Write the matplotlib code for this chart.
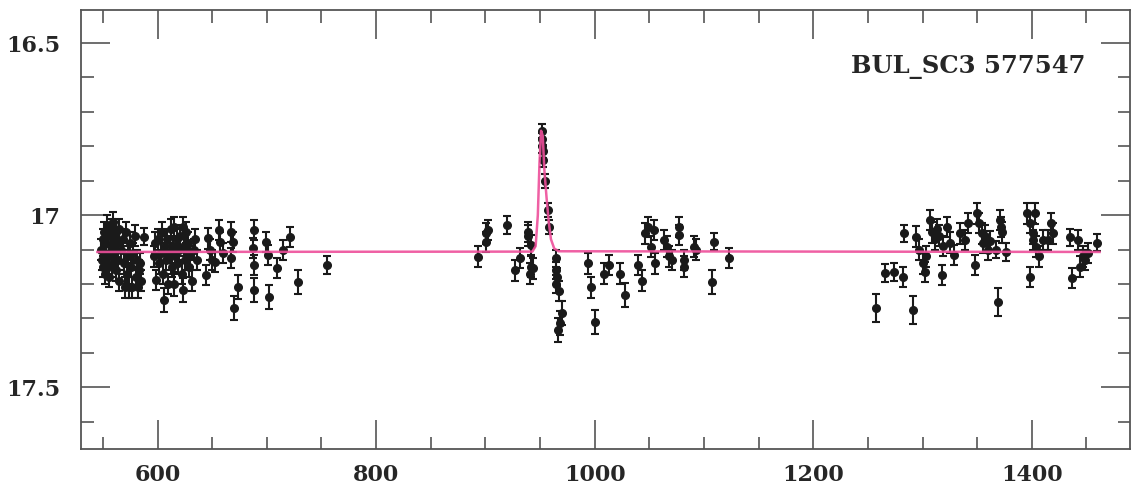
import matplotlib.pyplot as plt
from matplotlib.ticker import MultipleLocator, FormatStrFormatter

# season 1 (days, I mag, error)
s1_t = [548, 549, 550, 550, 551, 552, 552, 553, 554, 554, 555, 556, 556, 557, 558, 558, 559, 560, 560, 561,
        562, 562, 563, 564, 565, 565,
        567, 568, 569, 570, 571, 572, 573, 574, 575, 576, 577, 578, 579, 580, 581, 582, 583, 584, 585, 588,
        597, 598, 599, 600, 601, 603, 604, 605, 606, 607, 608, 609, 610, 611, 612, 613, 614, 615, 615, 616,
        618, 619, 620, 621, 622, 623, 623, 624, 625, 626, 627, 628, 629, 630, 632, 633, 634, 636,
        644, 646, 648, 650, 653, 656, 657, 660, 667, 667, 669, 670, 674, 688, 687, 688, 688, 699, 701, 702,
        709, 715, 721, 729, 755]
s1_mag = [17.10, 17.13, 17.07, 17.15, 17.05, 17.11, 17.17, 17.08, 17.03, 17.14, 17.06, 17.12, 17.18, 17.09,
          17.04, 17.15, 17.02, 17.07, 17.12, 17.10, 17.05, 17.16, 17.08, 17.13, 17.04, 17.19,
          17.10, 17.07, 17.14, 17.21, 17.05, 17.17, 17.12, 17.21, 17.08, 17.15, 17.21, 17.11, 17.06, 17.18,
          17.13, 17.21, 17.16, 17.14, 17.19, 17.063,
          17.12, 17.08, 17.188, 17.07, 17.14, 17.11, 17.05, 17.17, 17.246, 17.09, 17.13, 17.07, 17.20, 17.11,
          17.04, 17.15, 17.09, 17.035, 17.20, 17.12, 17.07, 17.14, 17.10, 17.06, 17.17, 17.035, 17.217, 17.09,
          17.13, 17.05, 17.11, 17.08, 17.15, 17.12, 17.19, 17.10, 17.07, 17.13,
          17.174, 17.067, 17.10, 17.13, 17.136, 17.043, 17.078, 17.11, 17.049, 17.125, 17.078, 17.27, 17.209,
          17.043, 17.096, 17.145, 17.217, 17.078, 17.116, 17.238, 17.154, 17.101, 17.064, 17.194, 17.145]
s1_err = [0.03, 0.03, 0.03, 0.03, 0.03, 0.03, 0.03, 0.03, 0.03, 0.03, 0.03, 0.03, 0.03, 0.03, 0.03, 0.03,
          0.03, 0.03, 0.03, 0.03, 0.03, 0.03, 0.03, 0.03, 0.03, 0.03,
          0.03, 0.03, 0.03, 0.03, 0.03, 0.03, 0.03, 0.03, 0.03, 0.03, 0.03, 0.03, 0.03, 0.03, 0.03, 0.03,
          0.03, 0.03, 0.03, 0.025,
          0.03, 0.03, 0.03, 0.03, 0.03, 0.03, 0.03, 0.03, 0.035, 0.03, 0.03, 0.03, 0.03, 0.03, 0.03, 0.03,
          0.03, 0.03, 0.035, 0.03, 0.03, 0.03, 0.03, 0.03, 0.03, 0.03, 0.035, 0.03, 0.03, 0.03, 0.03, 0.03,
          0.03, 0.03, 0.03, 0.03, 0.03, 0.03,
          0.03, 0.03, 0.03, 0.03, 0.03, 0.03, 0.03, 0.03, 0.03, 0.03, 0.03, 0.035, 0.035, 0.03, 0.03, 0.03,
          0.035, 0.03, 0.03, 0.035, 0.03, 0.03, 0.03, 0.035, 0.025]

# season 2, with the event
s2_t = [893, 901, 901, 902, 920, 927, 932, 939, 939, 941, 942, 942, 944,
        951.5, 951.5, 952, 952.5, 953, 954.5, 957.5, 958,
        965, 965, 965.5, 965, 967, 970, 968.5, 966,
        994, 997, 1000, 1009, 1013, 1023, 1028,
        1040, 1043, 1046, 1049, 1052, 1054, 1055, 1063, 1066, 1068, 1071, 1077, 1077, 1082, 1082,
        1091, 1093, 1109, 1107, 1123]
s2_mag = [17.121, 17.053, 17.078, 17.043, 17.029, 17.16, 17.125, 17.049, 17.06, 17.17, 17.087, 17.15, 17.155,
          16.755, 16.78, 16.80, 16.815, 16.84, 16.90, 16.985, 17.035,
          17.125, 17.16, 17.18, 17.20, 17.22, 17.284, 17.313, 17.333,
          17.14, 17.21, 17.31, 17.17, 17.145, 17.17, 17.232,
          17.145, 17.19, 17.053, 17.035, 17.092, 17.043, 17.14, 17.072, 17.092, 17.12, 17.13, 17.058, 17.035,
          17.13, 17.15, 17.092, 17.1, 17.077, 17.194, 17.125]
s2_err = [0.03, 0.03, 0.03, 0.03, 0.025, 0.03, 0.03, 0.03, 0.03, 0.03, 0.03, 0.03, 0.03,
          0.02, 0.02, 0.02, 0.02, 0.02, 0.02, 0.02, 0.02,
          0.025, 0.025, 0.025, 0.025, 0.03, 0.035, 0.035, 0.035,
          0.03, 0.03, 0.035, 0.03, 0.03, 0.03, 0.035,
          0.03, 0.03, 0.03, 0.03, 0.03, 0.03, 0.03, 0.03, 0.03, 0.03, 0.03, 0.03, 0.03, 0.03, 0.03,
          0.03, 0.03, 0.025, 0.035, 0.03]

# season 3
s3_t = [1257, 1266, 1274, 1282, 1291, 1283, 1294, 1297, 1300, 1302, 1303, 1307, 1309, 1311, 1313, 1315,
        1318, 1319, 1322, 1325, 1329, 1334, 1339, 1342, 1348, 1350, 1352, 1354, 1355, 1357, 1360, 1362,
        1367, 1369, 1371, 1372, 1373, 1376,
        1396, 1398, 1398, 1401, 1401, 1403, 1404, 1407, 1410, 1415, 1418, 1419,
        1435, 1437, 1442, 1444, 1447, 1449, 1451, 1460]
s3_mag = [17.27, 17.168, 17.165, 17.18, 17.275, 17.053, 17.063, 17.10, 17.14, 17.165, 17.12, 17.014, 17.05,
          17.07, 17.04, 17.06, 17.174, 17.09, 17.035, 17.08, 17.116, 17.053, 17.072, 17.023, 17.145, 16.995,
          17.023, 17.053, 17.08, 17.06, 17.10, 17.075, 17.10, 17.252, 17.014, 17.035, 17.05, 17.107,
          16.995, 17.023, 17.18, 17.053, 17.072, 16.995, 17.092, 17.12, 17.072, 17.072, 17.023, 17.053,
          17.064, 17.183, 17.072, 17.15, 17.12, 17.13, 17.11, 17.08]
s3_err = [0.04, 0.025, 0.025, 0.03, 0.04, 0.025, 0.03, 0.03, 0.03, 0.03, 0.03, 0.03, 0.03, 0.03, 0.03,
          0.03, 0.03, 0.03, 0.03, 0.03, 0.03, 0.03, 0.03, 0.03, 0.03, 0.03, 0.03, 0.03, 0.03, 0.03, 0.03,
          0.03, 0.025, 0.04, 0.03, 0.03, 0.03, 0.025,
          0.03, 0.03, 0.03, 0.03, 0.03, 0.03, 0.03, 0.03, 0.03, 0.03, 0.03, 0.03,
          0.025, 0.03, 0.03, 0.03, 0.03, 0.03, 0.03, 0.025]

# fitted curve
fit_t = [545, 943, 946, 948, 949.5, 951, 952.5, 954, 956, 958, 960, 963, 967, 1462]
fit_mag = [17.107, 17.106, 17.09, 17.0, 16.85, 16.755, 16.77, 16.87, 16.95, 17.02, 17.07, 17.097, 17.105, 17.107]

label = "BUL_SC3 577547"

fig = plt.figure(figsize=(11.33, 4.98), dpi=100)
ax = fig.add_axes([0.0715, 0.098, 0.926, 0.882])

for t, m, e in [(s1_t, s1_mag, s1_err), (s2_t, s2_mag, s2_err), (s3_t, s3_mag, s3_err)]:
    ax.errorbar(t, m, yerr=e, fmt='o', color='#1a1a1a', ms=5.5, elinewidth=1.5,
                capsize=2.8, capthick=1.5, zorder=2)

ax.plot(fit_t, fit_mag, color='#ee4f9a', lw=1.8, alpha=0.9, zorder=3)

ax.set_xlim(530, 1490)
ax.set_ylim(17.68, 16.404)

ax.xaxis.set_major_locator(MultipleLocator(200))
ax.xaxis.set_minor_locator(MultipleLocator(50))
ax.yaxis.set_major_locator(MultipleLocator(0.5))
ax.yaxis.set_minor_locator(MultipleLocator(0.1))
ax.yaxis.set_major_formatter(FormatStrFormatter('%g'))

ax.tick_params(which='both', direction='in', top=True, right=True, color='#555555', width=1.2)
ax.tick_params(which='major', length=21, labelsize=16, labelcolor='#262626')
ax.tick_params(axis='x', which='major', pad=11)
ax.tick_params(axis='y', which='major', pad=15)
ax.tick_params(which='minor', length=9)
for lab in ax.get_xticklabels() + ax.get_yticklabels():
    lab.set_family('DejaVu Serif')
    lab.set_weight('bold')
for sp in ax.spines.values():
    sp.set_color('#555555')
    sp.set_linewidth(1.3)

ax.text(0.957, 0.897, label, transform=ax.transAxes, ha='right', va='top',
        fontsize=17.5, family='DejaVu Serif', fontweight='bold', color='#262626')

fig.savefig('out.png', dpi=100)
